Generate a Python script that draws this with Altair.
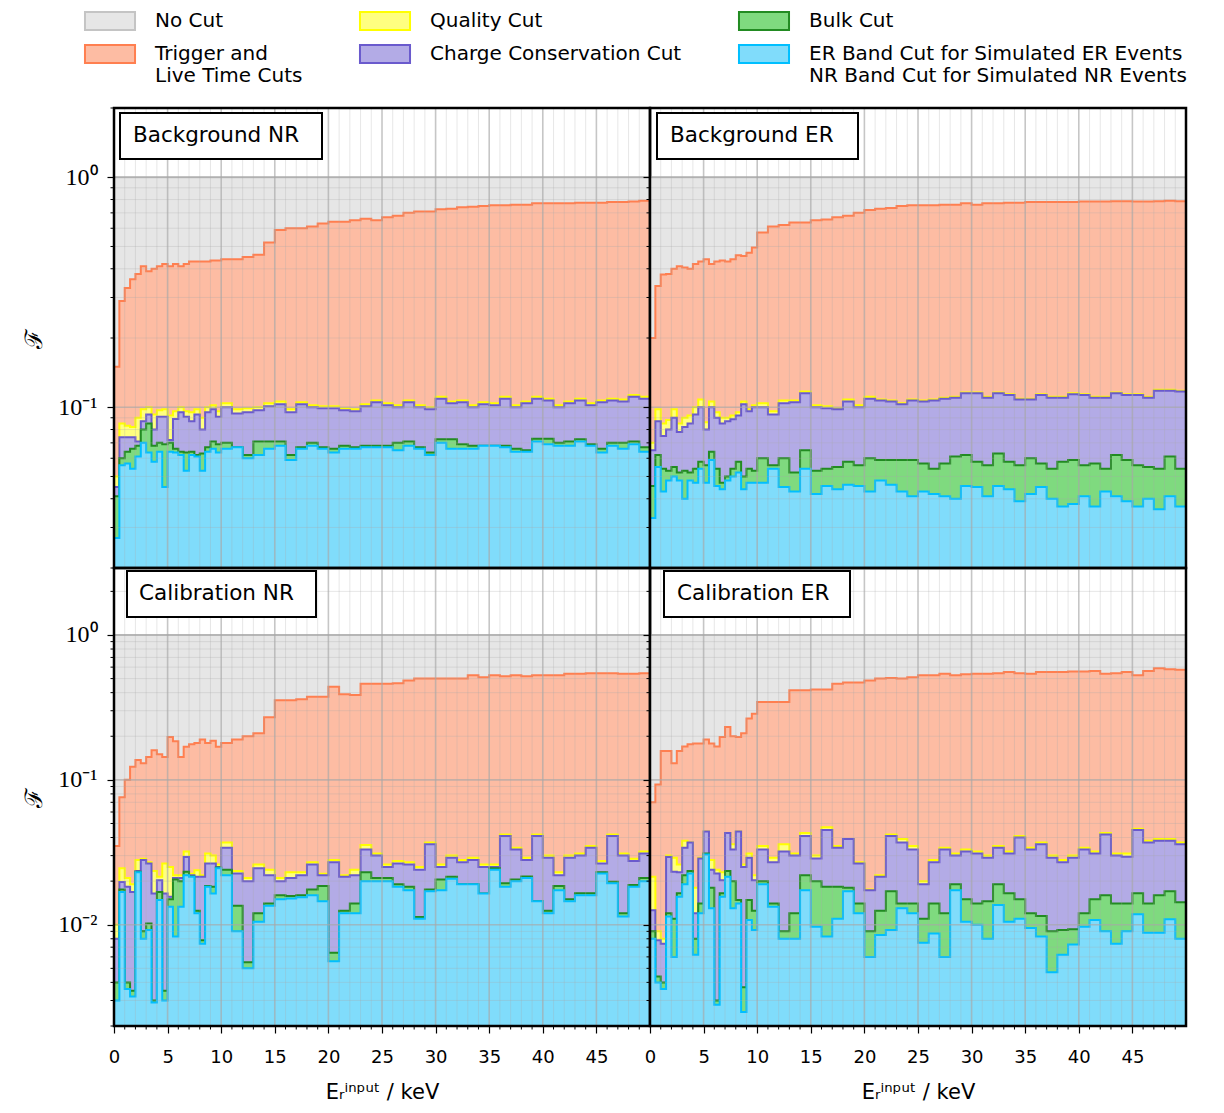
import altair as alt
import pandas as pd

# ---------------- binning (left edges, keV) ----------------
BIN_LO = [i / 2 for i in range(20)] + [float(i) for i in range(10, 50)]
E_MAX = 50.0

# ---------------- tick / grid values ----------------
X_TICKS = [0, 5, 10, 15, 20, 25, 30, 35, 40, 45]
X_GRID_MAJOR = [5, 10, 15, 20, 25, 30, 35, 40, 45]
X_GRID_MINOR = [v for v in range(1, 50) if v % 5 != 0]
Y_GRID_TOP = [0.02, 0.03, 0.04, 0.05, 0.06, 0.07, 0.08, 0.09,
              0.2, 0.3, 0.4, 0.5, 0.6, 0.7, 0.8, 0.9, 2.0]
Y_GRID_BOT = [0.002, 0.003, 0.004, 0.005, 0.006, 0.007, 0.008, 0.009,
              0.02, 0.03, 0.04, 0.05, 0.06, 0.07, 0.08, 0.09,
              0.2, 0.3, 0.4, 0.5, 0.6, 0.7, 0.8, 0.9, 2.0]
Y_MAJOR_TOP = [0.1, 1.0]
Y_MAJOR_BOT = [0.01, 0.1, 1.0]

# ---------------- categories ----------------
CUTS = ["No Cut", "Trigger and|Live Time Cuts", "Quality Cut",
        "Charge Conservation Cut", "Bulk Cut",
        "ER Band Cut for Simulated ER Events|NR Band Cut for Simulated NR Events"]
LEGEND_ORDER = [CUTS[0], CUTS[2], CUTS[4], CUTS[1], CUTS[3], CUTS[5]]
FILLS = {CUTS[0]: "#e6e6e6", CUTS[1]: "#fdbca3", CUTS[2]: "#ffff80",
         CUTS[3]: "#b3abe6", CUTS[4]: "#7fda7f", CUTS[5]: "#80dcfb"}
STROKES = {CUTS[0]: "#c4c4c4", CUTS[1]: "#ff7f50", CUTS[2]: "#ffff00",
           CUTS[3]: "#6a5acd", CUTS[4]: "#228b22", CUTS[5]: "#00bfff"}

NO_CUT = [1.0] * 60

# ---------------- Background NR ----------------
bg_nr_trigger = [0.15, 0.29, 0.33, 0.36, 0.38, 0.41, 0.39, 0.40, 0.41, 0.42, 0.41, 0.42, 0.41, 0.42, 0.43, 0.43, 0.43, 0.43, 0.435, 0.435,
                 0.44, 0.44, 0.45, 0.46, 0.52, 0.59, 0.60, 0.60, 0.61, 0.63, 0.64, 0.64, 0.65, 0.66, 0.65,
                 0.67, 0.68, 0.70, 0.71, 0.71, 0.726, 0.73, 0.74, 0.745, 0.75, 0.755, 0.755, 0.76, 0.76, 0.77, 0.77, 0.77, 0.77, 0.775, 0.775, 0.775, 0.78, 0.78, 0.785, 0.79]
bg_nr_quality = [0.05, 0.085, 0.083, 0.082, 0.09, 0.098, 0.10, 0.093, 0.097, 0.098, 0.092, 0.096, 0.10, 0.096, 0.095, 0.098, 0.09, 0.10, 0.102, 0.096,
                 0.104, 0.098, 0.099, 0.10, 0.104, 0.106, 0.098, 0.105, 0.102, 0.101, 0.101, 0.099, 0.098, 0.103, 0.107,
                 0.104, 0.102, 0.107, 0.102, 0.100, 0.111, 0.106, 0.107, 0.102, 0.105, 0.104, 0.111, 0.102, 0.106, 0.111, 0.109, 0.102, 0.106, 0.109, 0.104, 0.107, 0.109, 0.108, 0.113, 0.111]
bg_nr_charge = [0.045, 0.074, 0.074, 0.074, 0.071, 0.087, 0.093, 0.080, 0.091, 0.091, 0.072, 0.089, 0.095, 0.091, 0.087, 0.093, 0.080, 0.095, 0.098, 0.091,
                0.100, 0.094, 0.095, 0.097, 0.101, 0.103, 0.095, 0.103, 0.100, 0.099, 0.099, 0.097, 0.096, 0.101, 0.105,
                0.102, 0.100, 0.105, 0.100, 0.098, 0.109, 0.104, 0.105, 0.100, 0.103, 0.102, 0.109, 0.100, 0.104, 0.109, 0.107, 0.100, 0.104, 0.107, 0.102, 0.105, 0.107, 0.106, 0.111, 0.109]
bg_nr_bulk = [0.041, 0.060, 0.064, 0.066, 0.068, 0.080, 0.085, 0.068, 0.070, 0.069, 0.070, 0.066, 0.064, 0.0635, 0.064, 0.062, 0.063, 0.067, 0.071, 0.069,
              0.070, 0.067, 0.062, 0.071, 0.071, 0.071, 0.062, 0.067, 0.070, 0.067, 0.066, 0.068, 0.067, 0.068, 0.068,
              0.068, 0.070, 0.071, 0.067, 0.0635, 0.0726, 0.0726, 0.069, 0.068, 0.068, 0.068, 0.068, 0.066, 0.065, 0.073, 0.073, 0.070, 0.071, 0.0726, 0.069, 0.066, 0.070, 0.070, 0.071, 0.067]
bg_nr_band = [0.027, 0.056, 0.057, 0.054, 0.061, 0.070, 0.0635, 0.058, 0.064, 0.045, 0.064, 0.0635, 0.062, 0.053, 0.062, 0.061, 0.053, 0.064, 0.066, 0.0635,
              0.066, 0.067, 0.060, 0.062, 0.066, 0.068, 0.059, 0.066, 0.068, 0.066, 0.0635, 0.066, 0.066, 0.067, 0.067,
              0.067, 0.065, 0.068, 0.066, 0.062, 0.070, 0.066, 0.066, 0.066, 0.068, 0.068, 0.067, 0.064, 0.064, 0.071, 0.069, 0.068, 0.068, 0.071, 0.068, 0.0635, 0.068, 0.066, 0.069, 0.064]

# ---------------- Background ER ----------------
bg_er_trigger = [0.20, 0.337, 0.378, 0.38, 0.40, 0.41, 0.405, 0.40, 0.42, 0.43, 0.44, 0.42, 0.43, 0.435, 0.43, 0.44, 0.458, 0.455, 0.47, 0.495,
                 0.575, 0.61, 0.62, 0.635, 0.635, 0.65, 0.655, 0.67, 0.68, 0.70, 0.72, 0.73, 0.735, 0.75, 0.755,
                 0.755, 0.755, 0.76, 0.76, 0.77, 0.76, 0.77, 0.77, 0.775, 0.775, 0.78, 0.78, 0.78, 0.78, 0.78, 0.785, 0.785, 0.785, 0.787, 0.787, 0.785, 0.785, 0.787, 0.79, 0.787]
bg_er_quality = [0.07, 0.098, 0.085, 0.088, 0.098, 0.085, 0.09, 0.092, 0.10, 0.108, 0.086, 0.106, 0.095, 0.09, 0.09, 0.092, 0.095, 0.106, 0.098, 0.102,
                 0.104, 0.096, 0.107, 0.107, 0.117, 0.102, 0.101, 0.099, 0.108, 0.102, 0.111, 0.108, 0.107, 0.104, 0.108,
                 0.107, 0.108, 0.110, 0.111, 0.116, 0.116, 0.111, 0.116, 0.114, 0.109, 0.109, 0.114, 0.111, 0.111, 0.115, 0.114, 0.111, 0.111, 0.116, 0.114, 0.114, 0.111, 0.119, 0.119, 0.118]
bg_er_charge = [0.065, 0.087, 0.075, 0.080, 0.090, 0.078, 0.082, 0.085, 0.093, 0.100, 0.080, 0.100, 0.090, 0.085, 0.087, 0.0887, 0.092, 0.103, 0.096, 0.100,
                0.100, 0.093, 0.104, 0.105, 0.115, 0.100, 0.099, 0.098, 0.106, 0.100, 0.109, 0.107, 0.106, 0.103, 0.107,
                0.106, 0.107, 0.109, 0.110, 0.115, 0.115, 0.110, 0.115, 0.113, 0.108, 0.108, 0.113, 0.110, 0.110, 0.114, 0.113, 0.110, 0.110, 0.115, 0.113, 0.113, 0.110, 0.118, 0.118, 0.117]
bg_er_bulk = [0.0455, 0.062, 0.054, 0.053, 0.055, 0.052, 0.053, 0.052, 0.054, 0.058, 0.056, 0.064, 0.054, 0.047, 0.050, 0.054, 0.058, 0.050, 0.054, 0.053,
              0.060, 0.056, 0.060, 0.052, 0.065, 0.053, 0.054, 0.055, 0.058, 0.056, 0.060, 0.059, 0.059, 0.059, 0.059,
              0.057, 0.054, 0.057, 0.061, 0.062, 0.058, 0.056, 0.063, 0.058, 0.056, 0.060, 0.057, 0.054, 0.058, 0.059, 0.056, 0.057, 0.054, 0.062, 0.059, 0.056, 0.055, 0.054, 0.061, 0.054]
bg_er_band = [0.033, 0.055, 0.043, 0.048, 0.050, 0.048, 0.040, 0.048, 0.047, 0.054, 0.047, 0.059, 0.0455, 0.044, 0.048, 0.050, 0.052, 0.044, 0.047, 0.047,
              0.047, 0.054, 0.045, 0.043, 0.054, 0.042, 0.0455, 0.044, 0.046, 0.0455, 0.043, 0.048, 0.046, 0.043, 0.041,
              0.043, 0.042, 0.041, 0.040, 0.0455, 0.045, 0.041, 0.0455, 0.044, 0.039, 0.042, 0.045, 0.040, 0.037, 0.038, 0.041, 0.037, 0.043, 0.041, 0.039, 0.037, 0.040, 0.036, 0.041, 0.037]

# ---------------- Calibration NR ----------------
cal_nr_trigger = [0.035, 0.076, 0.10, 0.123, 0.137, 0.13, 0.144, 0.16, 0.15, 0.144, 0.198, 0.185, 0.144, 0.169, 0.176, 0.18, 0.19, 0.18, 0.186, 0.169,
                  0.18, 0.19, 0.20, 0.21, 0.27, 0.355, 0.354, 0.36, 0.374, 0.374, 0.44, 0.39, 0.385, 0.46, 0.46,
                  0.46, 0.465, 0.486, 0.50, 0.50, 0.50, 0.50, 0.50, 0.527, 0.51, 0.527, 0.52, 0.527, 0.52, 0.527, 0.527, 0.527, 0.54, 0.54, 0.545, 0.545, 0.545, 0.54, 0.54, 0.545]
cal_nr_quality = [0.010, 0.0245, 0.021, 0.019, 0.028, 0.0285, 0.027, 0.0235, 0.0214, 0.0265, 0.025, 0.022, 0.022, 0.032, 0.0225, 0.0238, 0.022, 0.031, 0.030, 0.026,
                  0.037, 0.0235, 0.021, 0.026, 0.024, 0.021, 0.023, 0.023, 0.027, 0.0225, 0.028, 0.022, 0.024, 0.0355, 0.031,
                  0.026, 0.0275, 0.027, 0.025, 0.037, 0.026, 0.030, 0.028, 0.029, 0.026, 0.026, 0.042, 0.034, 0.029, 0.042, 0.030, 0.023, 0.030, 0.031, 0.035, 0.0275, 0.042, 0.031, 0.0285, 0.032]
cal_nr_charge = [0.008, 0.0197, 0.0183, 0.0168, 0.0235, 0.028, 0.0265, 0.0164, 0.0203, 0.0164, 0.0156, 0.021, 0.021, 0.0294, 0.022, 0.0214, 0.0214, 0.0265, 0.0265, 0.025,
                 0.034, 0.0226, 0.020, 0.0245, 0.022, 0.020, 0.021, 0.022, 0.026, 0.022, 0.027, 0.0214, 0.022, 0.033, 0.030,
                 0.025, 0.0265, 0.026, 0.024, 0.036, 0.025, 0.029, 0.027, 0.028, 0.025, 0.025, 0.041, 0.033, 0.028, 0.041, 0.029, 0.022, 0.029, 0.030, 0.034, 0.0265, 0.041, 0.030, 0.0275, 0.031]
cal_nr_bulk = [0.004, 0.0175, 0.004, 0.0035, 0.0232, 0.009, 0.0102, 0.003, 0.0168, 0.0035, 0.015, 0.0205, 0.020, 0.0232, 0.0215, 0.0125, 0.0078, 0.0185, 0.0183, 0.0248,
               0.024, 0.0135, 0.0055, 0.012, 0.014, 0.016, 0.0158, 0.016, 0.0175, 0.0185, 0.0064, 0.0125, 0.014, 0.023, 0.021,
               0.021, 0.019, 0.0183, 0.0113, 0.0175, 0.0205, 0.0214, 0.019, 0.019, 0.0164, 0.0245, 0.0193, 0.0205, 0.0215, 0.0145, 0.0125, 0.0185, 0.015, 0.0165, 0.0165, 0.023, 0.0198, 0.012, 0.0188, 0.021]
cal_nr_band = [0.003, 0.0168, 0.0036, 0.0032, 0.023, 0.008, 0.0092, 0.0029, 0.0148, 0.003, 0.0133, 0.0083, 0.0133, 0.022, 0.0214, 0.012, 0.0074, 0.0183, 0.0164, 0.0245,
               0.022, 0.009, 0.005, 0.0105, 0.0135, 0.015, 0.0152, 0.0155, 0.016, 0.0145, 0.0056, 0.012, 0.012, 0.020, 0.020,
               0.020, 0.0183, 0.0173, 0.011, 0.017, 0.0173, 0.0208, 0.019, 0.019, 0.0164, 0.024, 0.0183, 0.020, 0.021, 0.0145, 0.012, 0.0173, 0.0145, 0.016, 0.016, 0.0226, 0.0193, 0.0114, 0.0183, 0.020]

# ---------------- Calibration ER ----------------
cal_er_trigger = [0.07, 0.093, 0.158, 0.158, 0.13, 0.158, 0.17, 0.176, 0.178, 0.178, 0.19, 0.178, 0.17, 0.198, 0.232, 0.20, 0.198, 0.21, 0.265, 0.286,
                  0.345, 0.345, 0.345, 0.415, 0.415, 0.42, 0.42, 0.46, 0.47, 0.47, 0.486, 0.50, 0.505, 0.50, 0.51,
                  0.527, 0.527, 0.54, 0.527, 0.535, 0.54, 0.54, 0.545, 0.555, 0.545, 0.54, 0.555, 0.555, 0.555, 0.56, 0.56, 0.565, 0.54, 0.545, 0.555, 0.527, 0.565, 0.59, 0.58, 0.575]
cal_er_quality = [0.0214, 0.009, 0.008, 0.030, 0.029, 0.026, 0.038, 0.037, 0.018, 0.029, 0.044, 0.028, 0.024, 0.023, 0.043, 0.036, 0.044, 0.026, 0.031, 0.022,
                  0.035, 0.029, 0.036, 0.031, 0.043, 0.030, 0.047, 0.035, 0.039, 0.027, 0.0175, 0.022, 0.042, 0.039, 0.035,
                  0.020, 0.028, 0.034, 0.031, 0.033, 0.032, 0.030, 0.035, 0.032, 0.041, 0.034, 0.037, 0.030, 0.028, 0.030, 0.034, 0.032, 0.043, 0.031, 0.031, 0.046, 0.038, 0.039, 0.039, 0.037]
cal_er_charge = [0.0126, 0.0078, 0.0074, 0.0294, 0.0232, 0.023, 0.034, 0.037, 0.012, 0.0286, 0.044, 0.024, 0.0226, 0.0203, 0.043, 0.033, 0.044, 0.025, 0.029, 0.0203,
                 0.033, 0.027, 0.032, 0.030, 0.041, 0.0286, 0.045, 0.034, 0.039, 0.0265, 0.0173, 0.0214, 0.041, 0.037, 0.033,
                 0.019, 0.027, 0.033, 0.030, 0.032, 0.031, 0.029, 0.034, 0.031, 0.040, 0.033, 0.036, 0.029, 0.027, 0.029, 0.033, 0.031, 0.042, 0.030, 0.0295, 0.045, 0.037, 0.038, 0.038, 0.036]
cal_er_bulk = [0.009, 0.0044, 0.004, 0.012, 0.011, 0.0165, 0.022, 0.0235, 0.008, 0.014, 0.031, 0.018, 0.003, 0.0165, 0.0235, 0.020, 0.0148, 0.0037, 0.0148, 0.0125,
               0.020, 0.014, 0.009, 0.012, 0.022, 0.020, 0.0183, 0.0183, 0.018, 0.014, 0.009, 0.0125, 0.017, 0.014, 0.014,
               0.011, 0.014, 0.012, 0.019, 0.015, 0.014, 0.0145, 0.019, 0.0165, 0.015, 0.012, 0.0115, 0.009, 0.0092, 0.0093, 0.012, 0.015, 0.016, 0.014, 0.014, 0.0165, 0.014, 0.016, 0.017, 0.0143]
cal_er_band = [0.008, 0.004, 0.0036, 0.0114, 0.006, 0.0156, 0.019, 0.0226, 0.0062, 0.012, 0.0305, 0.013, 0.0028, 0.0156, 0.0214, 0.013, 0.014, 0.0025, 0.0108, 0.0092,
               0.019, 0.0133, 0.008, 0.008, 0.0173, 0.0097, 0.0083, 0.011, 0.017, 0.012, 0.006, 0.0085, 0.0092, 0.013, 0.012,
               0.0075, 0.0087, 0.006, 0.0173, 0.0105, 0.010, 0.008, 0.0137, 0.0105, 0.011, 0.0095, 0.0083, 0.0047, 0.0062, 0.0073, 0.0097, 0.0108, 0.009, 0.0074, 0.009, 0.0118, 0.0088, 0.0088, 0.0109, 0.008]

# ---------------- layout constants ----------------
W = 536
H_TOP = 460
H_BOT = 458

FILL_SCALE = alt.Scale(domain=LEGEND_ORDER, range=[FILLS[c] for c in LEGEND_ORDER])
STROKE_SCALE = alt.Scale(domain=LEGEND_ORDER, range=[STROKES[c] for c in LEGEND_ORDER])
LEGEND = alt.Legend(
    orient="none", legendX=-14, legendY=-97, direction="horizontal", columns=3,
    columnPadding=52, rowPadding=7, padding=0, title=None, labelFontSize=20,
    labelFont="DejaVu Sans", labelColor="black", labelLimit=600,
    labelExpr="split(datum.label, '|')", labelOffset=35,
    symbolType="M-2.78,-1L2.78,-1L2.78,1L-2.78,1Z", symbolSize=324,
    symbolStrokeWidth=2, symbolOpacity=1,
)


def make_df(series):
    rows = []
    for cut, vals in series:
        assert len(vals) == len(BIN_LO), (cut, len(vals))
        for e, v in zip(BIN_LO + [E_MAX], vals + [vals[-1]]):
            rows.append({"E": e, "F": v, "cut": cut})
    return pd.DataFrame(rows)


def panel(series, label, ydom, ymajor, yminor, height, box, left, bottom):
    xs = alt.Scale(domain=[0, 50], nice=False, zero=False)
    ys = alt.Scale(type="log", domain=ydom, nice=False)

    if bottom:
        xaxis = alt.Axis(
            values=X_TICKS, tickSize=7, tickColor="black", tickWidth=1.2,
            grid=False, domain=False, labelFont="DejaVu Sans", labelFontSize=18,
            labelColor="black", labelPadding=15, labelOverlap=False, labelFlush=False,
            title="Eᵣⁱⁿᵖᵘᵗ / keV", titleFont="DejaVu Sans", titleFontSize=21,
            titleFontWeight="normal", titleColor="black", titlePadding=15,
        )
    else:
        xaxis = None

    if left:
        yaxis = alt.Axis(
            values=ymajor,
            labelExpr="datum.value == 1 ? '10⁰' : datum.value == 0.1 ? '10⁻¹' : '10⁻²'",
            tickSize=7, tickColor="black", tickWidth=1.2, grid=False, domain=False,
            labelFont="Liberation Serif", labelFontSize=24, labelColor="black",
            labelPadding=10, labelOverlap=False,
            title="ℱ", titleFont="DejaVu Serif", titleFontSize=24,
            titleFontWeight="normal", titleColor="black", titlePadding=11,
        )
    else:
        yaxis = alt.Axis(values=ymajor, labels=False, tickSize=7, tickColor="black",
                         tickWidth=1.2, grid=False, domain=False, title="")

    df = make_df(series)
    layers = []
    for cut, _vals in series:
        sub = df[df["cut"] == cut]
        layers.append(
            alt.Chart(sub).mark_area(
                interpolate="step-after", strokeWidth=2, opacity=1, clip=True,
                strokeJoin="miter",
            ).encode(
                x=alt.X("E:Q", scale=xs, axis=xaxis),
                y=alt.Y("F:Q", scale=ys, stack=None, axis=yaxis),
                y2=alt.value(height + 4),
                fill=alt.Fill("cut:N", scale=FILL_SCALE, legend=LEGEND),
                stroke=alt.Stroke("cut:N", scale=STROKE_SCALE, legend=LEGEND),
            )
        )

    def xrules(vals, op, w):
        return alt.Chart(pd.DataFrame({"E": vals})).mark_rule(
            color="#a8a8a8", strokeWidth=w, opacity=op
        ).encode(x=alt.X("E:Q", scale=xs, axis=xaxis))

    def yrules(vals, op, w):
        return alt.Chart(pd.DataFrame({"F": vals})).mark_rule(
            color="#a8a8a8", strokeWidth=w, opacity=op
        ).encode(y=alt.Y("F:Q", scale=ys, axis=yaxis))

    grid = [xrules(X_GRID_MINOR, 0.28, 1), yrules(yminor, 0.28, 1),
            xrules(X_GRID_MAJOR, 0.65, 1.6), yrules(ymajor, 0.65, 1.6)]

    # minor tick marks (outside the frame)
    minor_ticks = [
        alt.Chart(pd.DataFrame({"F": yminor})).mark_rule(color="black", strokeWidth=1).encode(
            y=alt.Y("F:Q", scale=ys, axis=yaxis), x=alt.value(-3.5), x2=alt.value(0))
    ]
    if bottom:
        minor_ticks.append(
            alt.Chart(pd.DataFrame({"E": X_GRID_MINOR})).mark_rule(color="black", strokeWidth=1).encode(
                x=alt.X("E:Q", scale=xs, axis=xaxis), y=alt.value(height), y2=alt.value(height + 3.5))
        )

    bx0, bx1, by0, by1, tx = box
    lab = pd.DataFrame({"label": [label]})
    rect = alt.Chart(lab).mark_rect(fill="white", stroke="black", strokeWidth=2).encode(
        x=alt.value(bx0), x2=alt.value(bx1), y=alt.value(by0), y2=alt.value(by1))
    text = alt.Chart(lab).mark_text(
        align="left", baseline="middle", fontSize=21.5, font="DejaVu Sans", color="black"
    ).encode(x=alt.value(tx), y=alt.value((by0 + by1) / 2), text="label:N")
    frame = alt.Chart(lab).mark_rect(filled=False, stroke="black", strokeWidth=2.5).encode(
        x=alt.value(0), x2=alt.value(W), y=alt.value(0), y2=alt.value(height))

    return alt.layer(*layers, *grid, *minor_ticks, rect, text, frame).properties(width=W, height=height)


def series_of(trig, qual, charge, bulk, band):
    return list(zip(CUTS, [NO_CUT, trig, qual, charge, bulk, band]))


tl = panel(series_of(bg_nr_trigger, bg_nr_quality, bg_nr_charge, bg_nr_bulk, bg_nr_band),
           "Background NR", [0.02, 2.0], Y_MAJOR_TOP, Y_GRID_TOP, H_TOP,
           (6, 208, 5, 51, 19), True, False)
tr = panel(series_of(bg_er_trigger, bg_er_quality, bg_er_charge, bg_er_bulk, bg_er_band),
           "Background ER", [0.02, 2.0], Y_MAJOR_TOP, Y_GRID_TOP, H_TOP,
           (7, 208, 5, 51, 20), False, False)
bl = panel(series_of(cal_nr_trigger, cal_nr_quality, cal_nr_charge, cal_nr_bulk, cal_nr_band),
           "Calibration NR", [0.002, 2.9], Y_MAJOR_BOT, Y_GRID_BOT, H_BOT,
           (13, 202, 3, 49, 25), True, True)
br = panel(series_of(cal_er_trigger, cal_er_quality, cal_er_charge, cal_er_bulk, cal_er_band),
           "Calibration ER", [0.002, 2.9], Y_MAJOR_BOT, Y_GRID_BOT, H_BOT,
           (14, 200, 3, 49, 27), False, True)

chart = alt.concat(tl, tr, bl, br, columns=2, spacing=0, bounds="flush").properties(
    padding={"left": 14, "top": 3, "right": 0, "bottom": 4}
).configure_view(strokeWidth=0).configure(font="DejaVu Sans")

chart.save("out.html", embed_options={"renderer": "svg", "actions": False})
